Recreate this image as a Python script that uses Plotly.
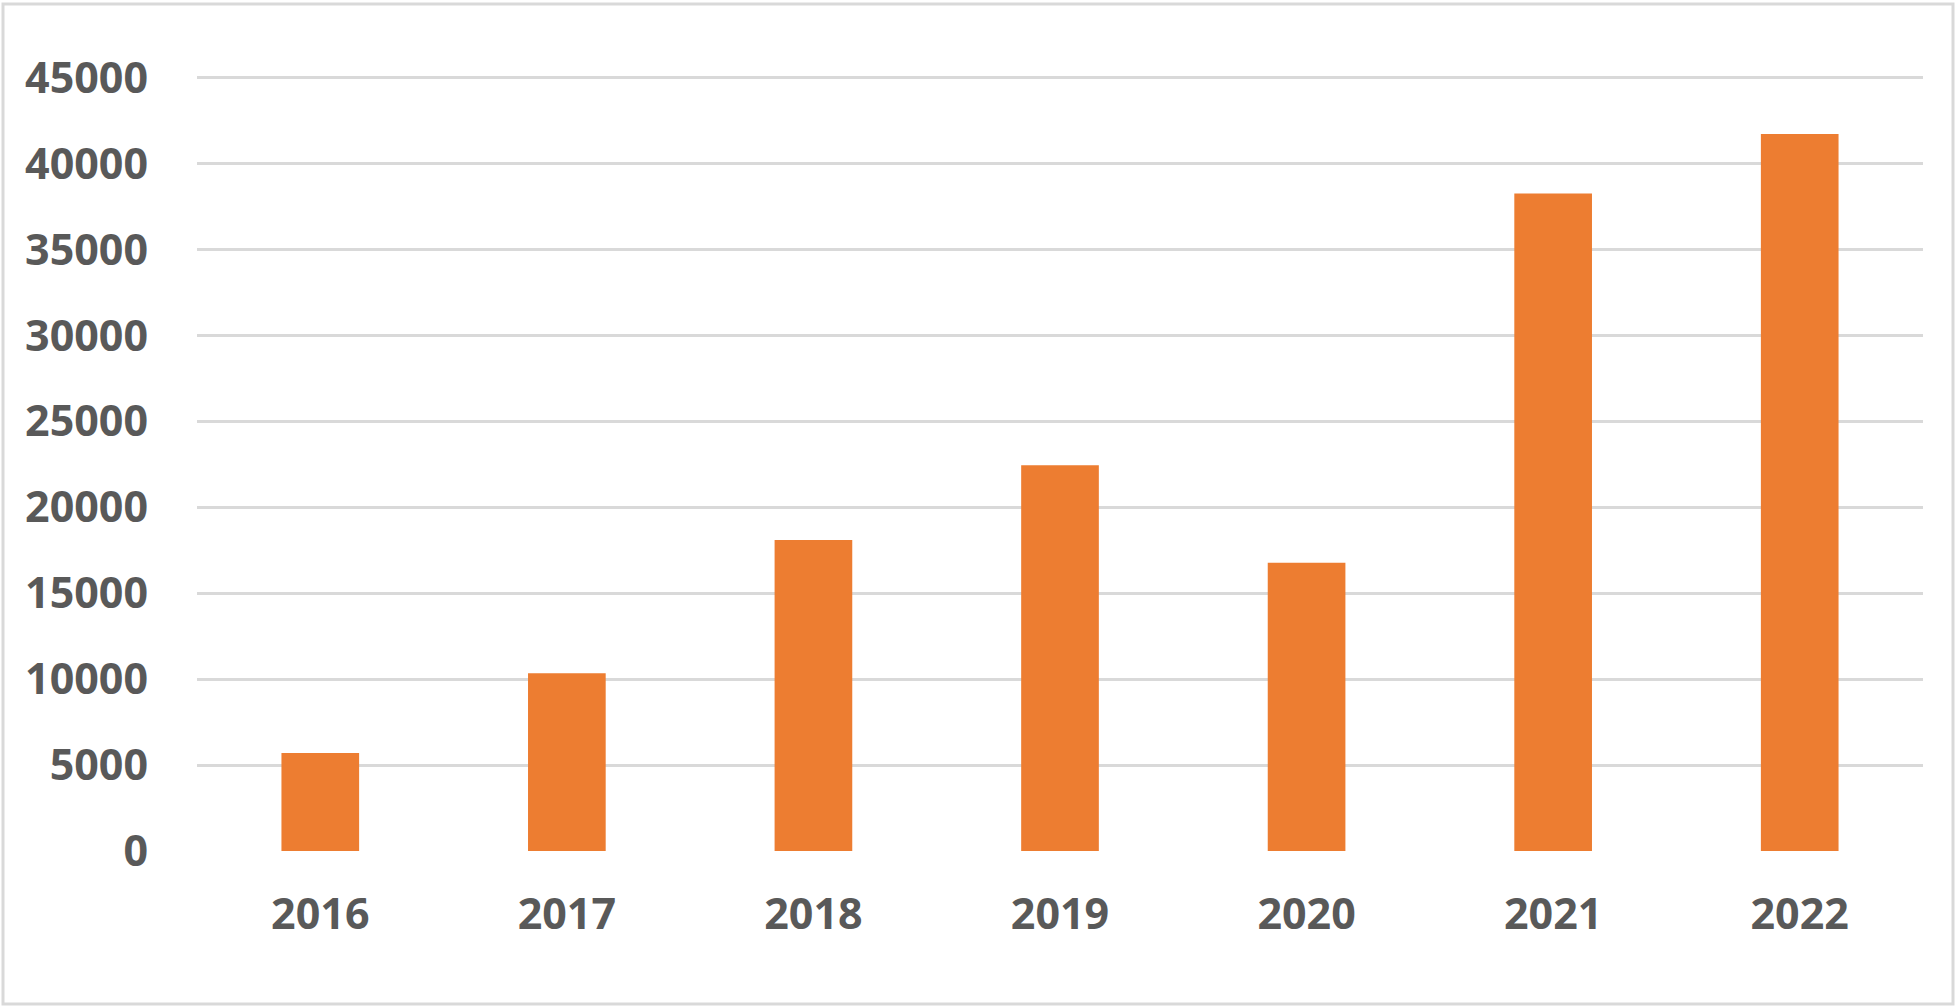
import plotly.graph_objects as go

years = ["2016", "2017", "2018", "2019", "2020", "2021", "2022"]
values = [5700, 10350, 18100, 22450, 16780, 38260, 41730]
y_ticks = [0, 5000, 10000, 15000, 20000, 25000, 30000, 35000, 40000, 45000]
y_labels = ["0", "5000", "10000", "15000", "20000", "25000", "30000", "35000", "40000", "45000"]

W, H = 1960, 1008
L, R, T, B = 197, 37, 76, 157
pw, ph = W - L - R, H - T - B

fig = go.Figure()
fig.add_trace(go.Bar(x=years, y=values, marker=dict(color="#ED7D31", line=dict(width=0)),
                     width=0.315))

font = dict(family="'Open Sans', Lato, sans-serif", size=43, color="#595959", weight="bold")
fig.update_layout(
    width=W, height=H,
    margin=dict(l=L, r=R, t=T, b=B, pad=0),
    paper_bgcolor="white", plot_bgcolor="white",
    showlegend=False,
    font=font,
    xaxis=dict(type="category", showgrid=False, showline=False, zeroline=False,
               ticks="", tickfont=font, ticklabelstandoff=34),
    yaxis=dict(range=[0, 45100], tickvals=y_ticks, ticktext=y_labels, showgrid=True,
               gridcolor="#D9D9D9", gridwidth=3, zeroline=False, showline=False, ticks="",
               tickfont=font, ticklabelstandoff=48),
    shapes=[dict(type="rect", xref="paper", yref="paper",
                 x0=(3 - L) / pw, x1=(1953 - L) / pw,
                 y0=1 - (1004 - T) / ph, y1=1 - (4 - T) / ph,
                 line=dict(color="#D9D9D9", width=3), fillcolor="rgba(0,0,0,0)")],
)
fig.write_html("out.html", config={"displayModeBar": False},
               post_script="document.body.style.margin='0';")
